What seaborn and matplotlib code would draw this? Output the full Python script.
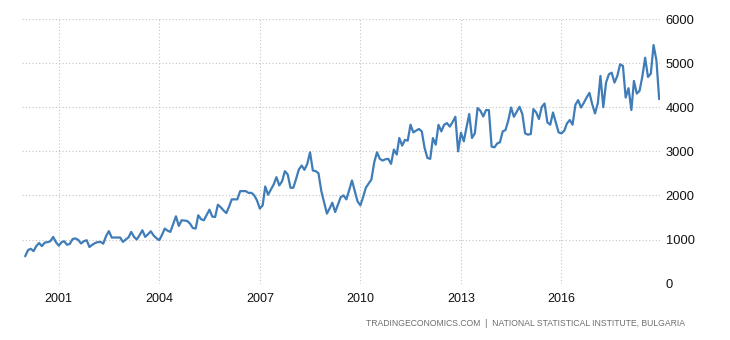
import matplotlib
matplotlib.use("Agg")
import matplotlib.pyplot as plt
import matplotlib.dates as mdates
import seaborn as sns
import pandas as pd
import numpy as np

# Monthly values, January 2000 to December 2018
start_month = "2000-01-01"
values = [
    620, 760, 790, 736, 850, 920, 850, 930, 940, 960, 1059, 940,
    860, 940, 960, 880, 900, 1010, 1025, 990, 910, 960, 984, 830,
    880, 920, 940, 946, 905, 1080, 1190, 1045, 1045, 1045, 1045, 946,
    1000, 1050, 1172, 1060, 1000, 1100, 1210, 1059, 1120, 1187, 1090, 1030,
    984, 1110, 1248, 1200, 1172, 1350, 1526, 1307, 1436, 1430, 1420, 1361,
    1260, 1248, 1549, 1460, 1436, 1560, 1677, 1520, 1510, 1790, 1730, 1660,
    1600, 1750, 1910, 1910, 1910, 2097, 2097, 2097, 2055, 2060, 2000, 1887,
    1700, 1774, 2203, 2016, 2130, 2248, 2413, 2226, 2323, 2549, 2474, 2174,
    2174, 2380, 2587, 2677, 2580, 2715, 2977, 2564, 2550, 2503, 2100, 1850,
    1587, 1710, 1835, 1623, 1790, 1962, 2000, 1910, 2120, 2339, 2100, 1865,
    1774, 1970, 2174, 2270, 2361, 2752, 2977, 2828, 2790, 2820, 2828, 2715,
    3038, 2926, 3302, 3129, 3257, 3242, 3603, 3429, 3470, 3506, 3452, 3080,
    2850, 2828, 3300, 3151, 3600, 3452, 3600, 3641, 3560, 3660, 3783, 3000,
    3420, 3226, 3530, 3844, 3302, 3406, 3980, 3919, 3790, 3935, 3935, 3106,
    3090, 3180, 3203, 3452, 3480, 3700, 3993, 3783, 3900, 4009, 3844, 3406,
    3377, 3392, 3957, 3880, 3731, 4009, 4084, 3655, 3603, 3880, 3655, 3429,
    3406, 3467, 3632, 3709, 3603, 4054, 4160, 3993, 4100, 4219, 4325, 4070,
    3858, 4100, 4709, 4000, 4558, 4747, 4783, 4558, 4709, 4973, 4935, 4219,
    4431, 3935, 4596, 4309, 4370, 4700, 5122, 4686, 4761, 5409, 5063, 4183,
]
tick_years = [2001, 2004, 2007, 2010, 2013, 2016]
y_ticks = [0, 1000, 2000, 3000, 4000, 5000, 6000]
source_text = "TRADINGECONOMICS.COM  |  NATIONAL STATISTICAL INSTITUTE, BULGARIA"

dates = pd.date_range(start_month, periods=len(values), freq="MS")
df = pd.DataFrame({"date": dates, "value": values})

sns.set_style("white")
plt.rcParams["font.family"] = ["Liberation Sans", "DejaVu Sans"]

fig = plt.figure(figsize=(7.3, 3.4), dpi=100)
ax = fig.add_axes([21.7 / 730, 1 - 283.6 / 340, (660 - 21.7) / 730, (283.6 - 19) / 340])

sns.lineplot(data=df, x="date", y="value", ax=ax, color="#3f7cb8", linewidth=1.6)

ax.set_xlim(pd.Timestamp("1999-11-24"), pd.Timestamp("2018-12-10"))
ax.set_ylim(0, 6000)
ax.set_xlabel("")
ax.set_ylabel("")

ax.set_xticks([pd.Timestamp(f"{y}-01-01") for y in tick_years])
ax.xaxis.set_major_formatter(mdates.DateFormatter("%Y"))
ax.set_yticks(y_ticks)
ax.yaxis.tick_right()

ax.grid(True, color="#c4c4c4", linestyle=(0, (1, 2)), linewidth=0.8)
for s in ax.spines.values():
    s.set_visible(False)

ax.tick_params(axis="x", length=4, color="#c4c4c4", pad=3, labelsize=9, labelcolor="#111111")
ax.tick_params(axis="y", length=0, pad=4, labelsize=9.3, labelcolor="#111111")

fig.text(685 / 730, 1 - 323 / 340, source_text, ha="right", va="center",
         fontsize=6.2, color="#6e6e6e")

fig.savefig("out.png", dpi=100)
